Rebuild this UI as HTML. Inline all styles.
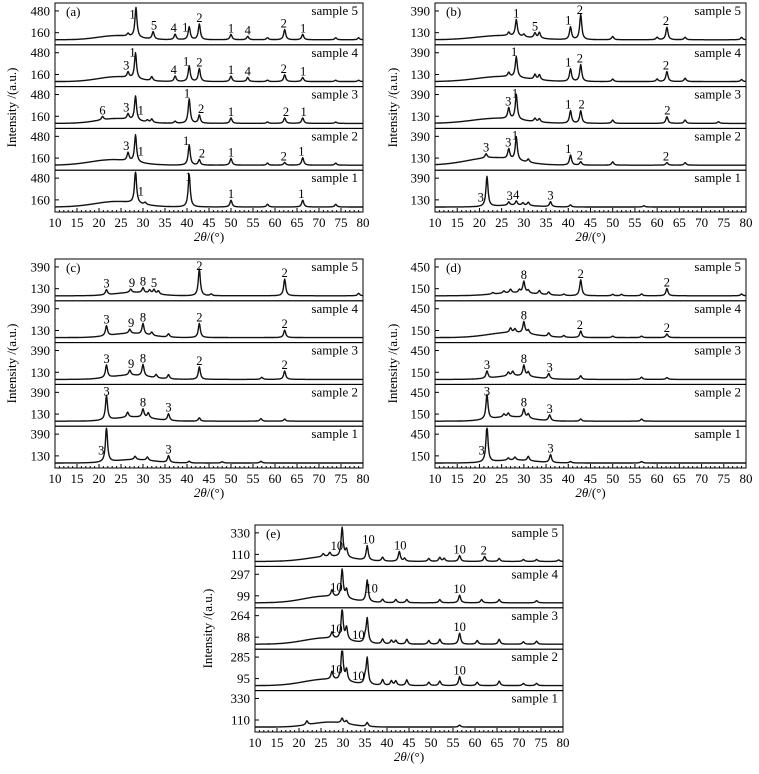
<!DOCTYPE html>
<html><head><meta charset="utf-8">
<style>
html,body{margin:0;padding:0;background:#fff;}
svg{display:block;font-family:"Liberation Serif",serif;}
</style></head>
<body>
<svg id="fig" width="759" height="774" viewBox="0 0 759 774" xmlns="http://www.w3.org/2000/svg"></svg>
<script>
// ---- data: per panel, samples ordered top (sample 5) to bottom (sample 1)
const xTicks = [10,15,20,25,30,35,40,45,50,55,60,65,70,75,80];
const panelATicks = [[160,480],[160,480],[160,480],[160,480],[160,480]];
const panelAHumps = [[24,6,60],[24,6,70],[24,6,70],[23,7,80],[24,7,80]];
const panelAPeaks = [
 [[26.6,40],[28.4,440],[32.3,110],[37.3,80],[40.5,190],[42.8,230],[50,80],[53.8,50],[58.3,30],[62.2,150],[66.3,80],[73.8,30],[79,30]],
 [[26.6,80],[28.3,380],[32,60],[37.3,80],[40.5,230],[42.8,190],[50,80],[53.8,60],[58.3,20],[62.2,100],[66.3,60],[73.8,20],[79,20]],
 [[20.8,50],[26.6,80],[28.3,360],[31,30],[32,50],[37.3,30],[40.5,360],[42.8,120],[50,80],[58.3,20],[62.2,80],[66.3,80],[73.8,20]],
 [[26.6,120],[28.3,400],[40.5,300],[42.8,80],[50,100],[58.3,30],[62.2,40],[66.3,110],[73.8,30]],
 [[28.3,480],[30.5,30],[40.5,480],[50,100],[58.3,40],[66.3,100],[73.8,40]]];
const panelALabels = [
 [[27.6,'1'],[32.5,'5'],[37,'4'],[39.6,'1'],[42.8,'2'],[50,'1'],[53.8,'4'],[62,'2'],[66.4,'1']],
 [[26.2,'3'],[27.6,'1'],[37,'4'],[39.8,'1'],[42.8,'2'],[50,'1'],[53.8,'4'],[62,'2'],[66.4,'1']],
 [[20.8,'6'],[26.2,'3'],[29.5,'1'],[40,'1'],[43.2,'2'],[50,'1'],[62.5,'2'],[66.5,'1']],
 [[26.2,'3'],[29.5,'1'],[39.8,'1'],[43.4,'2'],[50,'1'],[62,'2'],[66,'1']],
 [[29.5,'1'],[40.3,'1'],[50,'1'],[66,'1']]];

const panelBTicks = [[130,390],[130,390],[130,390],[130,390],[130,390]];
const panelBHumps = [[25,8,50],[25,8,60],[24,8,60],[23,8,90],[28,6,20]];
const panelBPeaks = [
 [[26.6,40],[28.3,200],[30,30],[32.5,60],[33.5,70],[40.5,150],[42.8,300],[50,40],[60,30],[62.2,150],[66.3,30],[79,30]],
 [[26.6,50],[28.3,250],[32.5,60],[33.5,60],[40.5,150],[42.8,200],[50,30],[60,30],[62.2,120],[66.3,40],[79,25]],
 [[26.6,130],[28.3,300],[32.5,40],[33.5,40],[40.5,150],[42.8,150],[50,40],[62.2,80],[66.3,40],[73.8,20]],
 [[21.5,50],[26.6,120],[28.3,280],[31,40],[40.5,120],[42.8,40],[50,40],[62.2,30],[66.3,30]],
 [[21.7,360],[26.6,40],[28.3,50],[29.8,30],[31,40],[36,60],[40.5,25],[57,15]]];
const panelBLabels = [
 [[28.3,'1'],[32.5,'5'],[40,'1'],[42.6,'2'],[62,'2']],
 [[27.8,'1'],[40,'1'],[42.6,'2'],[62,'2']],
 [[26.5,'3'],[28,'1'],[40,'1'],[43,'2'],[62.3,'2']],
 [[21.5,'3'],[26.5,'3'],[28,'1'],[40,'1'],[42.6,'2'],[62,'2']],
 [[20.3,'3'],[26.8,'3'],[28.3,'4'],[36,'3']]];

const panelCTicks = [[130,390],[130,390],[130,390],[130,390],[130,390]];
const panelCHumps = [[28,6,40],[27,6,50],[27,6,50],[28,6,50],[28,6,40]];
const panelCPeaks = [
 [[21.7,60],[27.2,40],[30,60],[31.5,40],[32.5,50],[33.5,40],[42.8,320],[45.5,20],[62.2,200],[79,30]],
 [[21.7,120],[27,50],[30,130],[32,40],[35.8,40],[42.8,170],[62.2,90]],
 [[21.7,150],[27,60],[30,140],[33,40],[35.8,50],[42.8,150],[57,25],[62.2,100]],
 [[21.7,290],[26.5,60],[30,100],[31.2,60],[35.8,80],[42.8,40],[56.8,30],[62.2,25]],
 [[21.7,420],[28.2,40],[31,40],[35.8,80],[40.5,20],[48,15],[56.8,20]]];
const panelCLabels = [
 [[21.7,'3'],[27.5,'9'],[30,'8'],[32.5,'5'],[42.8,'2'],[62.2,'2']],
 [[21.7,'3'],[27.3,'9'],[30,'8'],[42.8,'2'],[62.2,'2']],
 [[21.7,'3'],[27.3,'9'],[30,'8'],[42.8,'2'],[62.2,'2']],
 [[21.7,'3'],[30,'8'],[35.8,'3']],
 [[20.5,'3'],[35.8,'3']]];

const panelDTicks = [[150,450],[150,450],[150,450],[150,450],[150,450]];
const panelDHumps = [[28,7,40],[27,7,70],[28,6,50],[27,6,60],[28,6,40]];
const panelDPeaks = [
 [[23,20],[25.5,30],[27,50],[29,40],[30,160],[31,40],[33.5,50],[35.6,40],[39,20],[42.8,220],[50,20],[52,20],[56.5,25],[62.2,100],[79,25]],
 [[27,60],[28,50],[30,160],[31,50],[35.6,50],[39,25],[42.8,90],[50,20],[56.5,20],[62.2,50]],
 [[21.7,100],[26.5,50],[27.5,60],[30,150],[31,60],[35.6,70],[42.8,50],[56.5,30],[62.2,25]],
 [[21.7,340],[25.5,40],[26.5,50],[30,120],[31,60],[35.8,80],[42.8,30],[56.5,30]],
 [[21.7,500],[26.5,30],[28,40],[31,60],[36,110],[40.5,20],[56.5,20]]];
const panelDLabels = [
 [[30,'8'],[42.8,'2'],[62.2,'2']],
 [[30,'8'],[42.6,'2'],[62.2,'2']],
 [[21.7,'3'],[30,'8'],[35.8,'3']],
 [[21.7,'3'],[30,'8'],[35.8,'3']],
 [[20.5,'3'],[36,'3']]];

const panelETicks = [[110,330],[99,297],[88,264],[95,285],[110,330]];
const panelEHumps = [[27,7,50],[26,7,60],[26,7,50],[26,7,55],[27,6,50]];
const panelEPeaks = [
 [[25.5,30],[27,40],[29.8,300],[30.8,80],[35.5,150],[39,40],[42.8,100],[44,30],[49.5,30],[52,40],[53,30],[56.5,60],[62.2,50],[65.5,30],[71,20],[74,20],[79,15]],
 [[27.5,60],[29.8,260],[30.8,80],[35.5,200],[39,30],[42,30],[44.5,30],[52,30],[56.5,70],[61.5,30],[65.5,30],[74,20]],
 [[27.5,50],[29.8,250],[30.8,100],[35,40],[35.5,200],[39,40],[41,30],[42,30],[44.5,40],[49.5,30],[52,40],[56.5,90],[60.5,30],[65.5,40],[71,20],[74,25]],
 [[27.5,70],[29.8,300],[30.8,100],[35,50],[35.5,230],[39,50],[41,40],[42,40],[44.5,50],[49.5,30],[52,40],[56.5,80],[60.5,30],[65.5,40],[71,20],[74,20]],
 [[21.8,40],[29.8,50],[30.8,30],[35.5,40],[56.5,20]]];
const panelELabels = [
 [[28.6,'10'],[35.8,'10'],[43,'10'],[56.5,'10'],[62,'2']],
 [[28.5,'10'],[36.5,'10'],[56.5,'10']],
 [[28.5,'10'],[33.5,'10'],[56.5,'10']],
 [[28.5,'10'],[33.5,'10'],[56.5,'10']],
 []];

const sampleNames = ['sample 5','sample 4','sample 3','sample 2','sample 1'];

// ---- layout
const panels = [
 {id:'a', x0:55, x1:363, top:3, bot:212, ticks:panelATicks, humps:panelAHumps, peaks:panelAPeaks, labels:panelALabels, ylx:16},
 {id:'b', x0:435, x1:746, top:3, bot:212, ticks:panelBTicks, humps:panelBHumps, peaks:panelBPeaks, labels:panelBLabels, ylx:397},
 {id:'c', x0:55, x1:363, top:259, bot:468, ticks:panelCTicks, humps:panelCHumps, peaks:panelCPeaks, labels:panelCLabels, ylx:16},
 {id:'d', x0:435, x1:746, top:259, bot:468, ticks:panelDTicks, humps:panelDHumps, peaks:panelDPeaks, labels:panelDLabels, ylx:397},
 {id:'e', x0:255, x1:563, top:525, bot:732, ticks:panelETicks, humps:panelEHumps, peaks:panelEPeaks, labels:panelELabels, ylx:212}
];
const NS='http://www.w3.org/2000/svg';
const svg=document.getElementById('fig');
function mk(tag, attrs, parent){
  const e=document.createElementNS(NS,tag);
  for(const k in attrs) e.setAttribute(k,attrs[k]);
  (parent||svg).appendChild(e); return e;
}
function intensity(x, hump, peaks){
  let v = hump[2]*Math.exp(-Math.pow((x-hump[0])/hump[1],2));
  for(const p of peaks){ const d=(x-p[0])/0.28; v += p[1]/(1+d*d); }
  return v;
}
panels.forEach(P=>{
  const g=mk('g',{});
  
  
  const xs=v=>P.x0+(v-10)/70*(P.x1-P.x0);
  const h=(P.bot-P.top)/5;
  for(let i=0;i<5;i++){
    const st=P.top+i*h;
    const t1=P.ticks[i][0], t2=P.ticks[i][1], d=t2-t1;
    const base=t1-0.327*d;
    const ys=v=>st+h*0.19+(t2-v)/d*h*0.52;
    const sg=mk('g',{},g);
    
    
    const fr=mk('rect',{x:P.x0,y:st,width:P.x1-P.x0,height:h,fill:'none',stroke:'#000','stroke-width':1},sg);
    
    
    [t1,t2].forEach(t=>{
      const y=ys(t);
      mk('line',{x1:P.x0,x2:P.x0+4,y1:y,y2:y,stroke:'#000','stroke-width':1},sg);
      const tl=mk('text',{x:P.x0-5,y:y+4.5,'text-anchor':'end','font-size':13},sg);
      tl.textContent=t;
      
      
    });
    let dstr='';
    for(let x=10;x<=80.001;x+=0.1){
      let y=ys(base+intensity(x,P.humps[i],P.peaks[i]));
      y=Math.max(st+2,Math.min(st+h-1,y));
      dstr+=(dstr?'L':'M')+xs(x).toFixed(1)+' '+y.toFixed(1);
    }
    const path=mk('path',{d:dstr,fill:'none',stroke:'#111','stroke-width':1.4,'stroke-linejoin':'round'},sg);
    
    
    P.labels[i].forEach(L=>{
      let m=base; for(let x=L[0]-0.6;x<=L[0]+0.6;x+=0.05){ m=Math.max(m,base+intensity(x,P.humps[i],P.peaks[i])); }
      let y=ys(m)-2; y=Math.max(st+11,y);
      const t=mk('text',{x:xs(L[0]),y:y,'text-anchor':'middle','font-size':12.5},sg);
      t.textContent=L[1];
      
      
    });
    const sn=mk('text',{x:P.x1-5,y:st+12,'text-anchor':'end','font-size':13},sg);
    sn.textContent=sampleNames[i];
    
    
  }
  for(let v=10;v<=80;v++){
    const x=xs(v), major=v%5===0;
    mk('line',{x1:x,x2:x,y1:P.bot,y2:P.bot-(major?4:2),stroke:'#000','stroke-width':1},g);
  }
  xTicks.forEach(v=>{
    const t=mk('text',{x:xs(v),y:P.bot+15,'text-anchor':'middle','font-size':13},g);
    t.textContent=v;
    
    
  });
  const pl=mk('text',{x:P.x0+11,y:P.top+13,'font-size':13},g);
  pl.textContent='('+P.id+')';
  
  
  const xl=mk('text',{x:(P.x0+P.x1)/2,y:P.bot+29,'text-anchor':'middle','font-size':13},g);
  xl.innerHTML='<tspan font-style="italic">2θ</tspan>/(°)';
  
  
  const cy=(P.top+P.bot)/2;
  const yl=mk('text',{x:P.ylx,y:cy,'text-anchor':'middle','font-size':13,transform:'rotate(-90 '+P.ylx+' '+cy+')'},g);
  yl.textContent='Intensity /(a.u.)';
  
  
});
</script>
</body></html>
